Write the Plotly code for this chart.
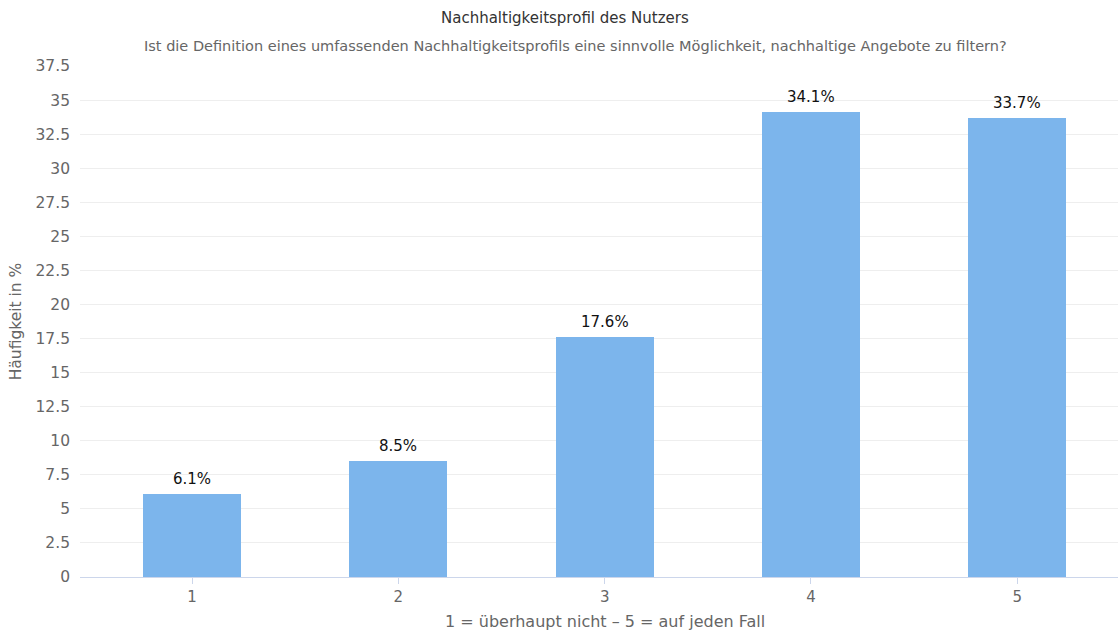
import plotly.graph_objects as go

categories = [1, 2, 3, 4, 5]
values = [6.1, 8.5, 17.6, 34.1, 33.7]
y_ticks = [0, 2.5, 5, 7.5, 10, 12.5, 15, 17.5, 20, 22.5, 25, 27.5, 30, 32.5, 35, 37.5]

FONT = "DejaVu Sans"
L, R, T, B = 80, 0, 66, 53
W, H = 1118, 630
pw, ph = W - L - R, H - T - B


def px_to_paper(px, py):
    return (px - L) / pw, 1 + (T - py) / ph


fig = go.Figure(
    go.Bar(
        x=categories,
        y=values,
        width=0.475,
        marker=dict(color="#7cb5ec", line=dict(width=0)),
        hoverinfo="x+y",
    )
)

# value labels above each bar
for c, v in zip(categories, values):
    fig.add_annotation(
        x=c, y=v, xref="x", yref="y", text=f"{v}%", showarrow=False,
        yanchor="bottom", yshift=4,
        font=dict(family=FONT, size=15, color="#111111"),
    )

tx, ty = px_to_paper(565, 18)
fig.add_annotation(text="Nachhaltigkeitsprofil des Nutzers", x=tx, y=ty, xref="paper", yref="paper",
                   xanchor="center", yanchor="middle", showarrow=False,
                   font=dict(family=FONT, size=15, color="#333333"))
sx, sy = px_to_paper(575, 46)
fig.add_annotation(text="Ist die Definition eines umfassenden Nachhaltigkeitsprofils eine sinnvolle Möglichkeit, nachhaltige Angebote zu filtern?",
                   x=sx, y=sy, xref="paper", yref="paper", xanchor="center", yanchor="middle",
                   showarrow=False, font=dict(family=FONT, size=14.5, color="#666666"))
ax, ay = px_to_paper(605, 621)
fig.add_annotation(text="1 = überhaupt nicht – 5 = auf jeden Fall", x=ax, y=ay, xref="paper", yref="paper",
                   xanchor="center", yanchor="middle", showarrow=False,
                   font=dict(family=FONT, size=16, color="#666666"))

fig.update_layout(
    width=W,
    height=H,
    margin=dict(l=L, r=R, t=T, b=B),
    paper_bgcolor="white",
    plot_bgcolor="white",
    showlegend=False,
    font=dict(family=FONT, color="#666666"),
    bargap=0,
)

fig.update_xaxes(
    range=[0.457, 5.488],
    tickvals=categories,
    ticktext=[str(c) for c in categories],
    ticks="outside",
    ticklen=6,
    tickcolor="#ccd6eb",
    showline=True,
    linecolor="#ccd6eb",
    linewidth=1,
    showgrid=False,
    zeroline=False,
    tickfont=dict(family=FONT, size=15, color="#666666"),
)

fig.update_yaxes(
    range=[0, 37.5],
    tickvals=y_ticks,
    ticktext=[f"{t:g}" for t in y_ticks],
    showgrid=True,
    gridcolor="#eeeeee",
    gridwidth=1,
    zeroline=False,
    showline=False,
    ticks="",
    ticklabelstandoff=9,
    tickfont=dict(family=FONT, size=15.5, color="#666666"),
    title=dict(text="Häufigkeit in %", standoff=10,
               font=dict(family=FONT, size=15.5, color="#666666")),
)

fig.write_html("out.html")
